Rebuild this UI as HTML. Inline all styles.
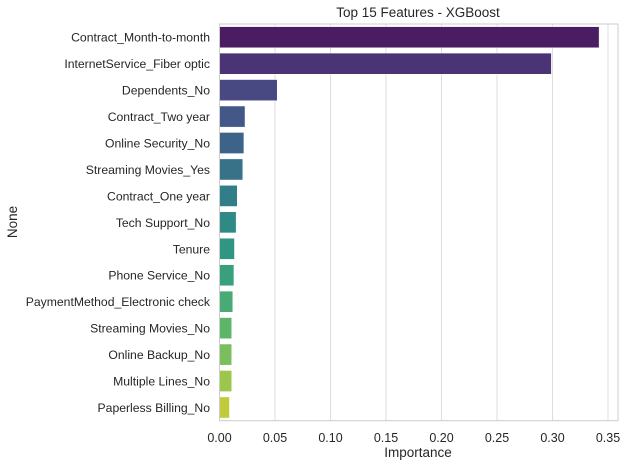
<!DOCTYPE html>
<html><head><meta charset="utf-8"><style>
body{margin:0;background:#fff;font-family:"Liberation Sans",sans-serif;}
text{font-family:"Liberation Sans",sans-serif;fill:#262626}
</style></head><body>
<svg width="627" height="467" xmlns="http://www.w3.org/2000/svg">
<g id="grid"></g><g id="bars"></g><g id="labels"></g>
<rect x="219.5" y="24" width="398.5" height="396.7" fill="none" stroke="#ccc" stroke-width="1"/>
<text x="418" y="17" text-anchor="middle" font-size="13.5">Top 15 Features - XGBoost</text>
<text x="418" y="457" text-anchor="middle" font-size="13.5">Importance</text>
<text transform="translate(17,222) rotate(-90)" text-anchor="middle" font-size="13.5">None</text>
</svg>
<script>
const categories=["Contract_Month-to-month","InternetService_Fiber optic","Dependents_No","Contract_Two year","Online Security_No","Streaming Movies_Yes","Contract_One year","Tech Support_No","Tenure","Phone Service_No","PaymentMethod_Electronic check","Streaming Movies_No","Online Backup_No","Multiple Lines_No","Paperless Billing_No"];
const values=[0.342,0.299,0.052,0.023,0.022,0.021,0.016,0.015,0.0135,0.013,0.012,0.011,0.011,0.011,0.009];
const ticks=[0,0.05,0.10,0.15,0.20,0.25,0.30,0.35];
const tickLabels=["0.00","0.05","0.10","0.15","0.20","0.25","0.30","0.35"];
const colors=["#4a1d62","#4a3476","#484982","#435889","#3d6488","#377288","#327e88","#2f8a86","#309583","#38a07d","#48ab74","#5db56a","#7abf5c","#9cc64c","#c1cb3a"];
const ns="http://www.w3.org/2000/svg";
const X0=219.5,SC=1110,TOP=24,BAND=396.7/15;
const x=v=>X0+v*SC, y=i=>TOP+i*BAND;
const g=document.getElementById('grid'),b=document.getElementById('bars'),l=document.getElementById('labels');
function mk(t,a){const e=document.createElementNS(ns,t);for(const k in a)e.setAttribute(k,a[k]);return e;}
ticks.forEach((t,i)=>{
 const ln=mk('line',{x1:x(t),x2:x(t),y1:TOP,y2:420.7,stroke:'#ddd','stroke-width':1});
 
 
 g.appendChild(ln);
 const tx=mk('text',{x:x(t),y:442,'text-anchor':'middle','font-size':12.5});
 
 
 tx.textContent=tickLabels[i];l.appendChild(tx);
});
categories.forEach((c,i)=>{
 const r=mk('rect',{x:X0,y:y(i)+BAND*0.1,width:x(values[i])-X0,height:BAND*0.8,fill:colors[i],stroke:'#fff','stroke-width':0.5});
 
 
 b.appendChild(r);
 const tx=mk('text',{x:210,y:y(i)+BAND/2+4.5,'text-anchor':'end','font-size':12.2});
 
 
 tx.textContent=c;l.appendChild(tx);
});
</script>
</body></html>
